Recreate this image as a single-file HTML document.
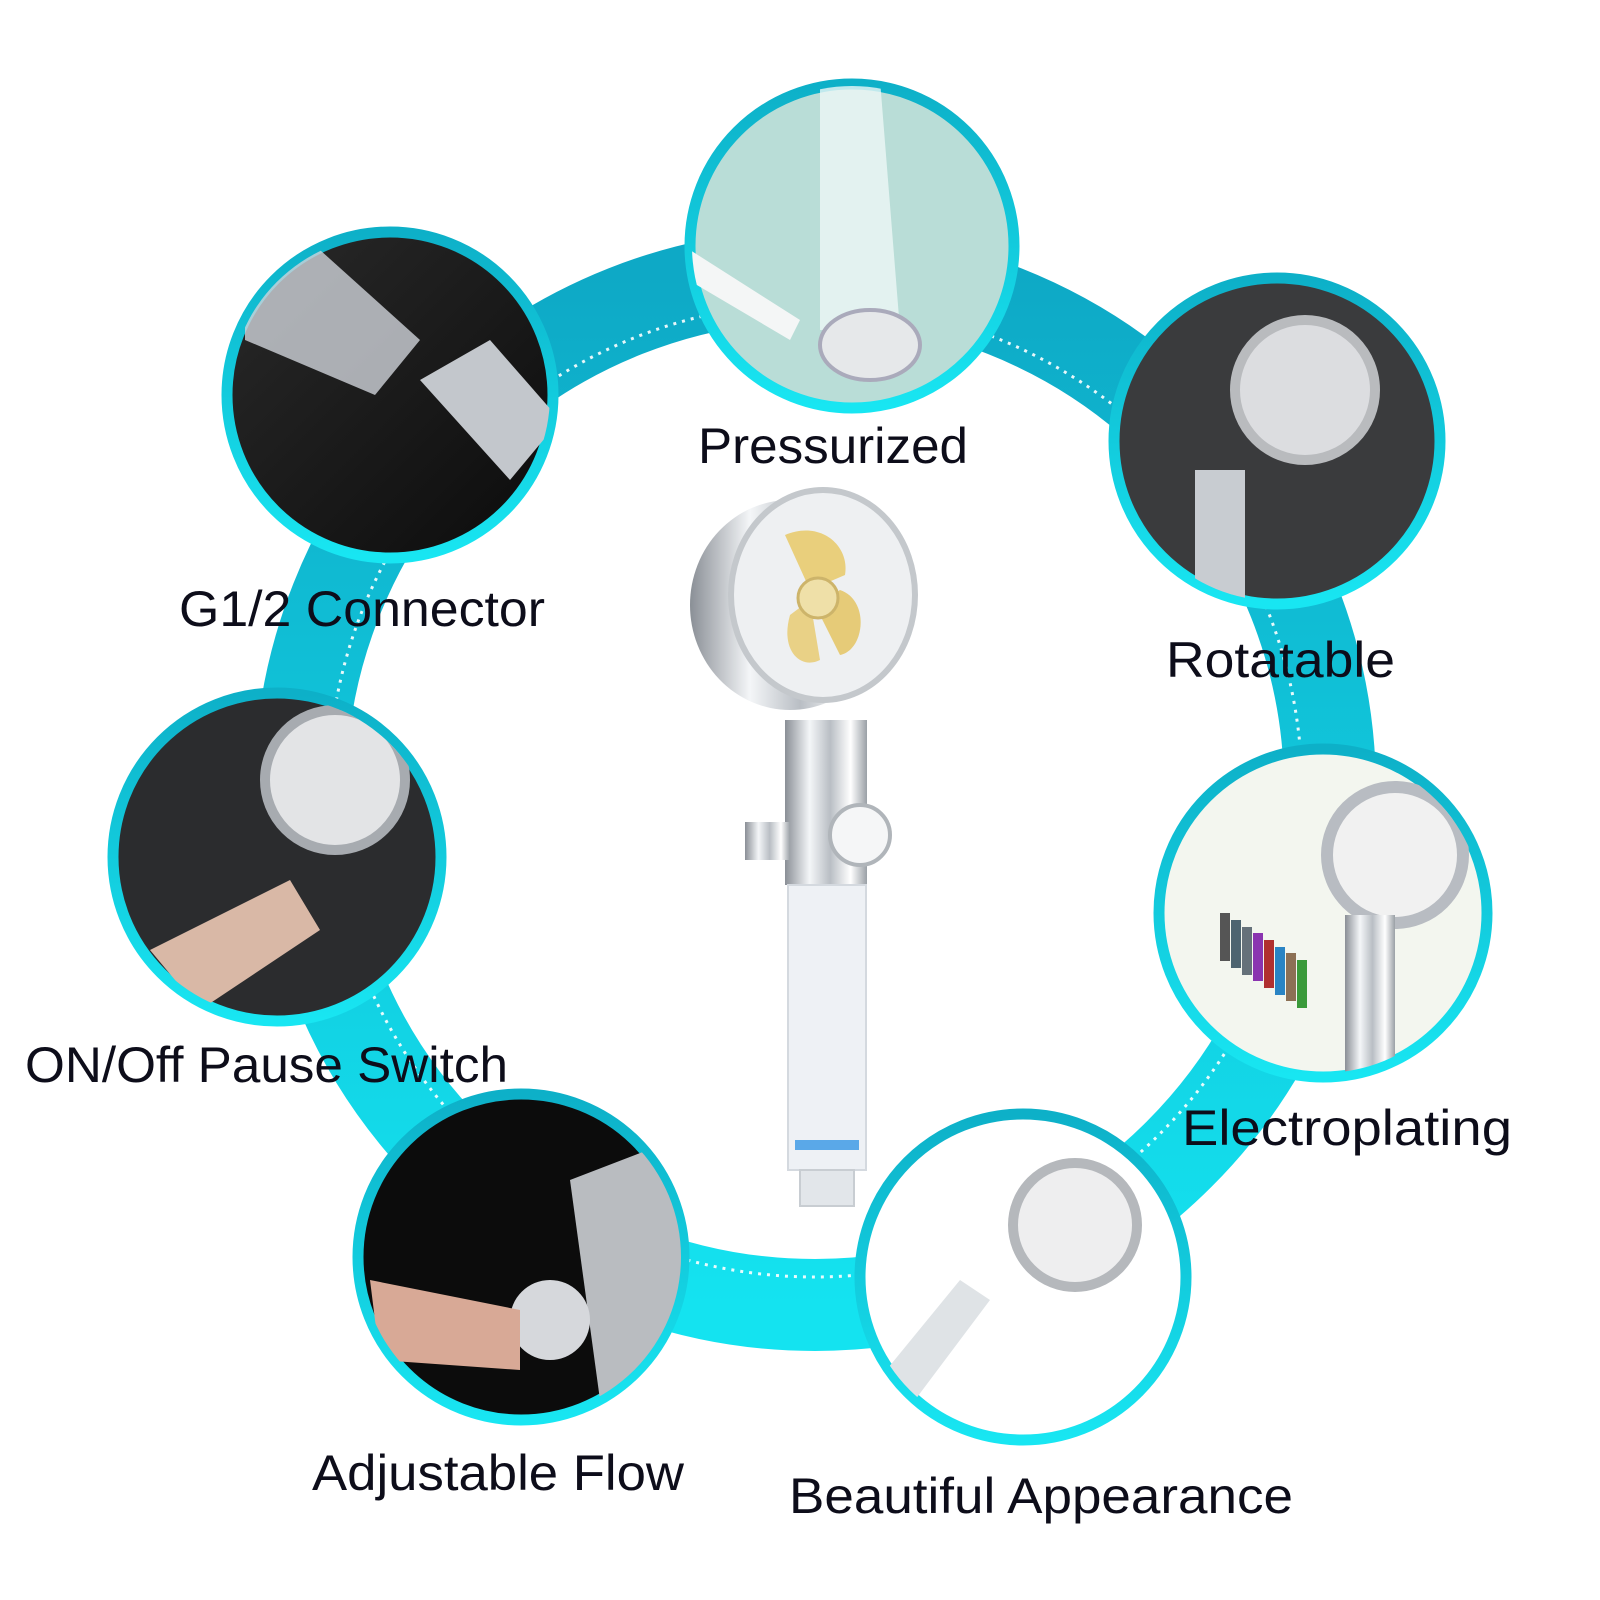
<!DOCTYPE html>
<html><head><meta charset="utf-8"><style>
html,body{margin:0;padding:0;background:#fff;}
svg{display:block}
text{font-family:"Liberation Sans",sans-serif;font-size:50px;fill:#0d0d1a;}
</style></head><body>
<svg width="1600" height="1600" viewBox="0 0 1600 1600" xmlns="http://www.w3.org/2000/svg">
<defs>
<linearGradient id="rg" x1="0" y1="0" x2="0" y2="1">
<stop offset="0" stop-color="#0ea9c6"/><stop offset="1" stop-color="#14e3f0"/>
</linearGradient>
<linearGradient id="cg" x1="0" y1="0" x2="0" y2="1">
<stop offset="0" stop-color="#0db0c8"/><stop offset="1" stop-color="#18e6f2"/>
</linearGradient>
<linearGradient id="chrome" x1="0" y1="0" x2="1" y2="0">
<stop offset="0" stop-color="#8a8f96"/><stop offset="0.3" stop-color="#f4f6f8"/><stop offset="0.55" stop-color="#b9bec4"/><stop offset="0.8" stop-color="#ffffff"/><stop offset="1" stop-color="#9aa0a6"/>
</linearGradient>
<linearGradient id="dark" x1="0" y1="0" x2="1" y2="1">
<stop offset="0" stop-color="#2a2a2a"/><stop offset="1" stop-color="#0b0b0b"/>
</linearGradient>
<clipPath id="c1"><circle cx="852" cy="246" r="160"/></clipPath>
<clipPath id="c2"><circle cx="390" cy="395" r="160"/></clipPath>
<clipPath id="c3"><circle cx="1277" cy="441" r="160"/></clipPath>
<clipPath id="c4"><circle cx="277" cy="857" r="160"/></clipPath>
<clipPath id="c5"><circle cx="1323" cy="913" r="160"/></clipPath>
<clipPath id="c6"><circle cx="521" cy="1257" r="160"/></clipPath>
<clipPath id="c7"><circle cx="1023" cy="1277" r="160"/></clipPath>
</defs>
<!-- ring -->
<circle cx="815" cy="790" r="515" fill="none" stroke="url(#rg)" stroke-width="92"/>
<circle cx="815" cy="790" r="487" fill="none" stroke="#fff" stroke-width="3" stroke-dasharray="3 6" opacity="0.9"/>

<!-- circles -->
<circle cx="852" cy="246" r="162" fill="#b9ddd7" stroke="url(#cg)" stroke-width="11"/>
<g clip-path="url(#c1)">
<path d="M820 80 L880 80 L900 330 L820 330Z" fill="#eef7f6" opacity="0.8"/>
<path d="M690 250 L800 320 L790 340 L680 275Z" fill="#f4f6f6"/>
<ellipse cx="870" cy="345" rx="50" ry="35" fill="#e6e8ea" stroke="#aab" stroke-width="4"/>
</g>

<circle cx="390" cy="395" r="163" fill="url(#dark)" stroke="url(#cg)" stroke-width="11"/>
<g clip-path="url(#c2)">
<path d="M245 290 L320 250 L420 340 L375 395 L245 340Z" fill="#cfd3da" opacity="0.8"/>
<path d="M420 380 L490 340 L560 420 L510 480Z" fill="#c3c7cc"/>
</g>

<circle cx="1277" cy="441" r="163" fill="#3a3b3d" stroke="url(#cg)" stroke-width="11"/>
<g clip-path="url(#c3)">
<circle cx="1305" cy="390" r="70" fill="#dcdde0" stroke="#b9bbbe" stroke-width="10"/>
<rect x="1195" y="470" width="50" height="140" fill="#c8ccd1"/>
</g>

<circle cx="277" cy="857" r="164" fill="#2b2c2e" stroke="url(#cg)" stroke-width="11"/>
<g clip-path="url(#c4)">
<circle cx="335" cy="780" r="70" fill="#e3e4e6" stroke="#a7abb0" stroke-width="10"/>
<path d="M150 950 L290 880 L320 930 L200 1010Z" fill="#d9b8a6"/>
</g>

<circle cx="1323" cy="913" r="164" fill="#f3f6ef" stroke="url(#cg)" stroke-width="11"/>
<g clip-path="url(#c5)">
<circle cx="1395" cy="855" r="68" fill="#f1f1f1" stroke="#b8bcc2" stroke-width="12"/>
<rect x="1345" y="915" width="50" height="160" fill="url(#chrome)"/>
<rect x="1220" y="913" width="10" height="48" fill="#555"/><rect x="1231" y="920" width="10" height="48" fill="#4d6470"/>
<rect x="1242" y="927" width="10" height="48" fill="#65717a"/><rect x="1253" y="933" width="10" height="48" fill="#8a34b0"/>
<rect x="1264" y="940" width="10" height="48" fill="#b03030"/><rect x="1275" y="947" width="10" height="48" fill="#2a84c4"/>
<rect x="1286" y="953" width="10" height="48" fill="#8c7055"/><rect x="1297" y="960" width="10" height="48" fill="#3a9a3a"/>
</g>

<circle cx="521" cy="1257" r="163" fill="#0c0c0c" stroke="url(#cg)" stroke-width="11"/>
<g clip-path="url(#c6)">
<path d="M570 1180 L700 1130 L700 1350 L600 1400Z" fill="#b9bcc0"/>
<circle cx="550" cy="1320" r="40" fill="#d6d8dc"/>
<path d="M370 1280 L520 1310 L520 1370 L380 1360Z" fill="#d8a996"/>
</g>

<circle cx="1023" cy="1277" r="163" fill="#ffffff" stroke="url(#cg)" stroke-width="11"/>
<g clip-path="url(#c7)">
<circle cx="1075" cy="1225" r="62" fill="#eeeeef" stroke="#b5b8bc" stroke-width="10"/>
<path d="M870 1390 L960 1280 L990 1300 L900 1420Z" fill="#dfe3e6"/>
</g>

<!-- central product -->
<ellipse cx="790" cy="605" rx="100" ry="105" fill="url(#chrome)"/>
<ellipse cx="823" cy="595" rx="92" ry="105" fill="#eef0f2" stroke="#c4c8cc" stroke-width="6"/>
<path d="M785 535 C820 520 850 545 845 575 L810 590Z" fill="#e9cf7c"/>
<path d="M840 590 C870 600 865 650 840 655 L815 605Z" fill="#e6cb78"/>
<path d="M790 615 C780 650 800 670 820 660 L810 600Z" fill="#e9d186"/>
<circle cx="818" cy="598" r="20" fill="#efe0a8" stroke="#cdb46a" stroke-width="3"/>
<rect x="785" y="720" width="82" height="165" fill="url(#chrome)"/>
<rect x="745" y="822" width="45" height="38" fill="url(#chrome)"/>
<circle cx="860" cy="835" r="30" fill="#f5f6f7" stroke="#b0b5ba" stroke-width="4"/>
<rect x="788" y="885" width="78" height="285" fill="#eef1f5" stroke="#d4d9df" stroke-width="2"/>
<rect x="795" y="1140" width="64" height="10" fill="#5aa8e8"/>
<rect x="800" y="1170" width="54" height="36" fill="#e2e6ea" stroke="#c8cdd2" stroke-width="2"/>

<!-- labels -->
<text x="698" y="463" textLength="270" lengthAdjust="spacingAndGlyphs">Pressurized</text>
<text x="179" y="626" textLength="366" lengthAdjust="spacingAndGlyphs">G1/2 Connector</text>
<text x="1166" y="677" textLength="229" lengthAdjust="spacingAndGlyphs">Rotatable</text>
<text x="25" y="1082" textLength="483" lengthAdjust="spacingAndGlyphs">ON/Off Pause Switch</text>
<text x="1182" y="1145" textLength="330" lengthAdjust="spacingAndGlyphs">Electroplating</text>
<text x="312" y="1490" textLength="372" lengthAdjust="spacingAndGlyphs">Adjustable Flow</text>
<text x="789" y="1513" textLength="504" lengthAdjust="spacingAndGlyphs">Beautiful Appearance</text>
</svg>
</body></html>
